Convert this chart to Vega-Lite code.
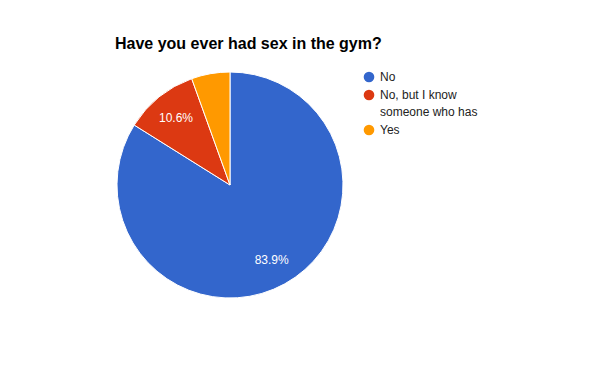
{
  "$schema": "https://vega.github.io/schema/vega-lite/v6.json",
  "width": 226,
  "height": 226,
  "autosize": {"type": "none"},
  "padding": {"left": 117, "top": 72, "right": 257, "bottom": 73},
  "background": "white",
  "config": {
    "style": {"guide-label": {"lineHeight": 17}}
  },
  "title": {
    "text": "Have you ever had sex in the gym?",
    "anchor": "start",
    "frame": "group",
    "font": "Liberation Sans",
    "fontSize": 16,
    "fontWeight": "bold",
    "color": "#000000",
    "baseline": "alphabetic",
    "offset": 5,
    "dx": -2
  },
  "data": {
    "values": [
      {"answer": "No", "value": 83.9, "label": "83.9%"},
      {"answer": "No, but I know someone who has", "value": 10.6, "label": "10.6%"},
      {"answer": "Yes", "value": 5.5, "label": ""}
    ]
  },
  "encoding": {
    "theta": {"field": "value", "type": "quantitative", "stack": true},
    "order": {"field": "order_none", "type": "quantitative"}
  },
  "layer": [
    {
      "mark": {"type": "arc", "stroke": "white", "strokeWidth": 1},
      "encoding": {
        "color": {
          "field": "answer",
          "type": "nominal",
          "sort": null,
          "scale": {
            "domain": ["No", "No, but I know someone who has", "Yes"],
            "range": ["#3366cc", "#dc3912", "#ff9900"]
          },
          "legend": {
            "title": null,
            "orient": "none",
            "legendX": 246,
            "legendY": -1,
            "padding": 0,
            "symbolType": "circle",
            "symbolSize": 113,
            "symbolStrokeWidth": 0,
            "labelFont": "Liberation Sans",
            "labelFontSize": 12,
            "labelColor": "#222222",
            "labelOffset": 5,
            "rowPadding": 6,
            "labelLimit": 300,
            "labelExpr": "datum.label == 'No, but I know someone who has' ? ['No, but I know', 'someone who has'] : datum.label"
          }
        }
      }
    },
    {
      "mark": {"type": "text", "radius": 86, "font": "Liberation Sans", "fontSize": 12, "color": "white"},
      "encoding": {
        "text": {"field": "label", "type": "nominal"}
      }
    }
  ]
}
